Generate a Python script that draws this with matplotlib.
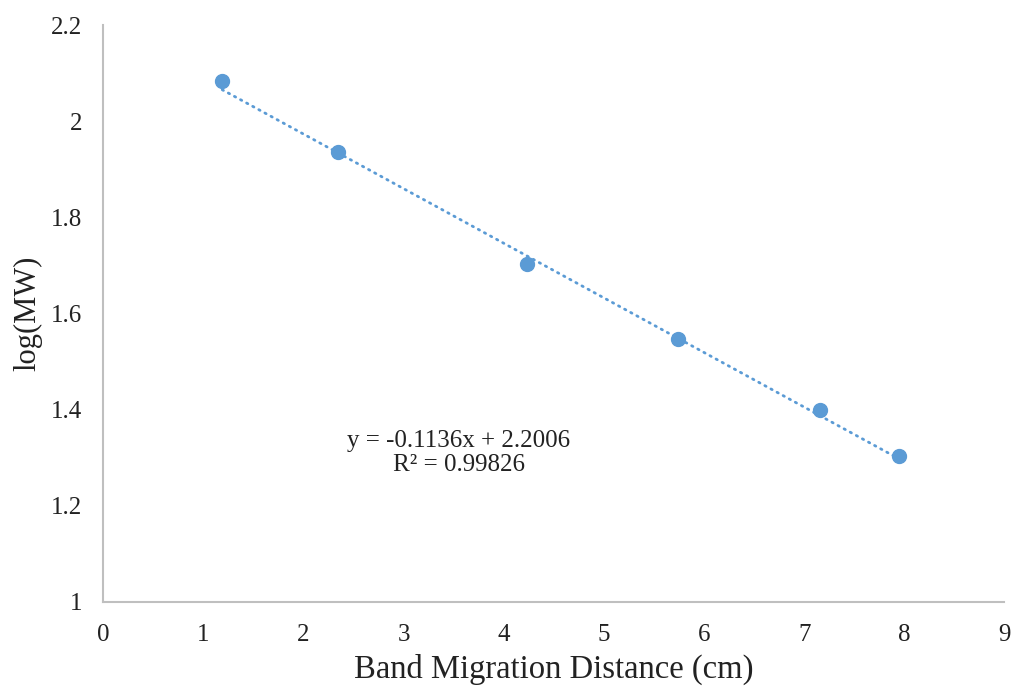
import numpy as np
import matplotlib.pyplot as plt

plt.rcParams['font.family'] = ['Liberation Serif', 'DejaVu Serif']

# Datos
distancia = [1.19, 2.35, 4.23, 5.74, 7.16, 7.95]
log_mw = [2.083, 1.935, 1.702, 1.546, 1.400, 1.304]

# Recta de tendencia (según la ecuación mostrada)
pendiente = -0.1136
intercepto = 2.2006
r2 = 0.99826

azul = '#5B9BD5'
gris = '#BFBFBF'

fig = plt.figure(figsize=(10.14, 6.91), dpi=100)
ax = fig.add_axes([0.1016, 0.1288, 0.889, 0.835])

xt = np.linspace(min(distancia), max(distancia), 50)
yt = pendiente * xt + intercepto
ax.plot(xt, yt, color=azul, linewidth=2, linestyle=(0, (0.5, 2.0)),
        dash_capstyle='round', zorder=2)
ax.plot(distancia, log_mw, 'o', color=azul, markersize=10, zorder=3)

ax.text(3.55, 1.31, f"y = {pendiente}x + {intercepto}\nR² = {r2}",
        ha='center', va='center', fontsize=18, color='#222222',
        linespacing=1.15)

ax.set_xlim(0, 9)
ax.set_ylim(1, 2.2)
ax.set_xticks(range(0, 10))
ax.set_yticks([1, 1.2, 1.4, 1.6, 1.8, 2, 2.2])
ax.set_yticklabels(['1', '1.2', '1.4', '1.6', '1.8', '2', '2.2'])

for s in ['top', 'right']:
    ax.spines[s].set_visible(False)
for s in ['left', 'bottom']:
    ax.spines[s].set_color(gris)
    ax.spines[s].set_linewidth(1.5)

ax.tick_params(axis='both', length=0, labelsize=18, colors='#222222')
ax.tick_params(axis='x', pad=15.5)
ax.tick_params(axis='y', pad=15)

ax.set_xlabel('Band Migration Distance (cm)', fontsize=23.5, color='#222222', labelpad=6)
ax.set_ylabel('log(MW)', fontsize=22, color='#222222', labelpad=6)

fig.savefig('out.png', dpi=100)
